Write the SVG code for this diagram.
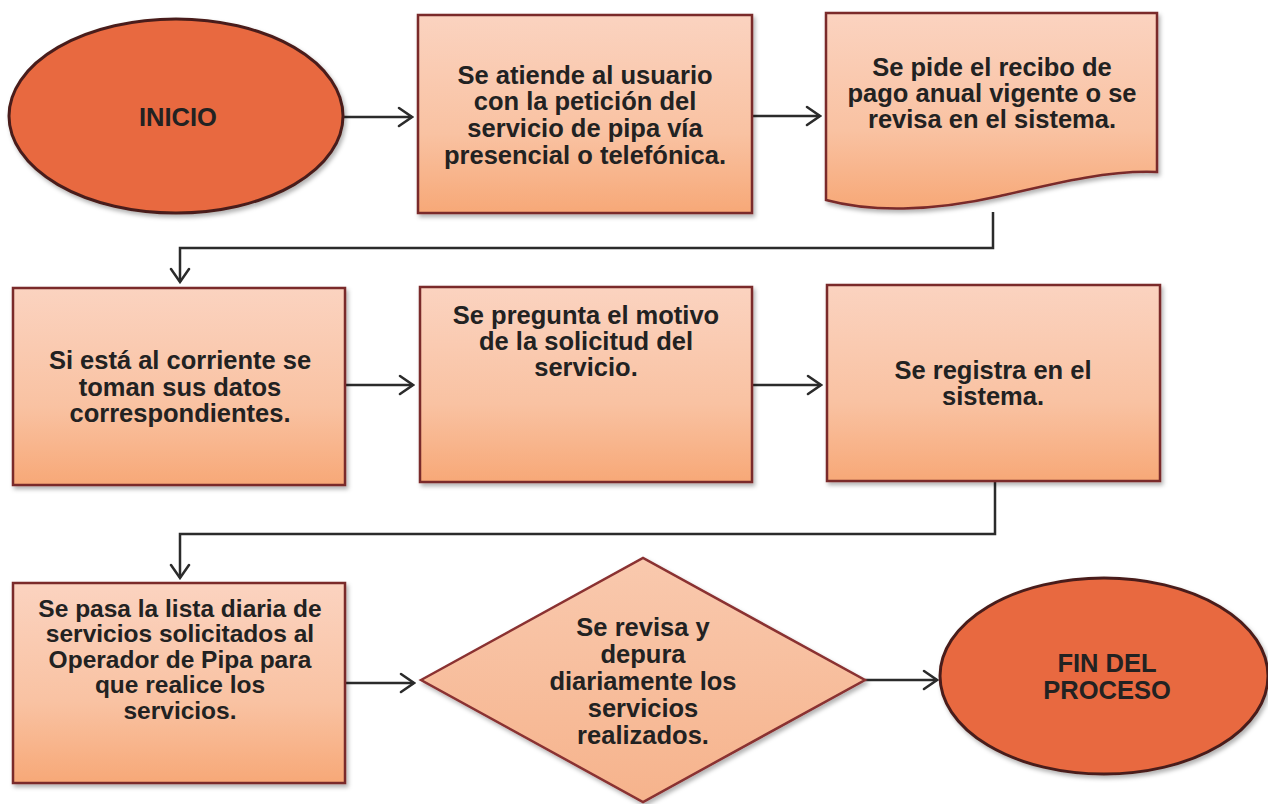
<svg xmlns="http://www.w3.org/2000/svg" width="1268" height="804" viewBox="0 0 1268 804">
  <defs>
    <linearGradient id="boxGrad" x1="0" y1="0" x2="0" y2="1">
      <stop offset="0" stop-color="#FBD3C0"/>
      <stop offset="0.6" stop-color="#F9C2A2"/>
      <stop offset="1" stop-color="#F7A877"/>
    </linearGradient>
    <linearGradient id="diaGrad" x1="0" y1="0" x2="0" y2="1">
      <stop offset="0" stop-color="#F9C9AE"/>
      <stop offset="1" stop-color="#F6B38C"/>
    </linearGradient>
    <filter id="shadow" x="-10%" y="-10%" width="120%" height="125%">
      <feDropShadow dx="2" dy="3" stdDeviation="2" flood-color="#000" flood-opacity="0.3"/>
    </filter>
    <marker id="arrow" markerUnits="userSpaceOnUse" viewBox="-16 -11 18 22" refX="0" refY="0" markerWidth="18" markerHeight="22" orient="auto">
      <path d="M-13,-9 L0,0 L-13,9" fill="none" stroke="#2b2b2b" stroke-width="2.5" stroke-linejoin="miter" stroke-linecap="round"/>
    </marker>
    <style>
      .box { fill: url(#boxGrad); stroke: #7A2B2B; stroke-width: 2.5; filter: url(#shadow); }
      .dia { fill: url(#diaGrad); stroke: #8A3030; stroke-width: 2.5; filter: url(#shadow); }
      .term { fill: #E8693F; stroke: #4A1F1A; stroke-width: 3; filter: url(#shadow); }
      .lbl { font-family: "Liberation Sans", Arial, sans-serif; font-weight: bold; font-size: 25.5px; fill: #222; text-anchor: middle; dominant-baseline: central; }
      .sm { font-size: 24.5px; }
      .con { fill: none; stroke: #2b2b2b; stroke-width: 2.5; }
    </style>
  </defs>

  <rect width="1268" height="804" fill="#ffffff"/>

  <g id="connectors">
    <line class="con" x1="343" y1="117" x2="412" y2="117" marker-end="url(#arrow)"/>
    <line class="con" x1="752" y1="116" x2="820" y2="116" marker-end="url(#arrow)"/>
    <polyline class="con" points="993,212 993,248 180,248 180,282" marker-end="url(#arrow)"/>
    <line class="con" x1="345" y1="385" x2="413" y2="385" marker-end="url(#arrow)"/>
    <line class="con" x1="752" y1="385" x2="821" y2="385" marker-end="url(#arrow)"/>
    <polyline class="con" points="995,481 995,534 180,534 180,578" marker-end="url(#arrow)"/>
    <line class="con" x1="345" y1="683" x2="414" y2="683" marker-end="url(#arrow)"/>
    <line class="con" x1="865" y1="680" x2="937" y2="680" marker-end="url(#arrow)"/>
  </g>

  <g id="inicio">
    <ellipse class="term" cx="176" cy="116" rx="167" ry="97"/>
    <text class="lbl" x="178" y="117">INICIO</text>
  </g>

  <g id="atiende">
    <rect class="box" x="418" y="15" width="334" height="198"/>
    <text class="lbl" x="585" y="75">Se atiende al usuario</text>
    <text class="lbl" x="585" y="101">con la petición del</text>
    <text class="lbl" x="585" y="128">servicio de pipa vía</text>
    <text class="lbl" x="585" y="155">presencial o telefónica.</text>
  </g>

  <g id="recibo">
    <path class="box" d="M826,13 H1157 V172 C1110,170 1060,182 1000,196 C930,212 870,212 826,200 Z"/>
    <text class="lbl" x="992" y="67">Se pide el recibo de</text>
    <text class="lbl" x="992" y="93">pago anual vigente o se</text>
    <text class="lbl" x="992" y="119">revisa en el sistema.</text>
  </g>

  <g id="corriente">
    <rect class="box" x="13" y="288" width="332" height="197"/>
    <text class="lbl" x="180" y="360">Si está al corriente se</text>
    <text class="lbl" x="180" y="387">toman sus datos</text>
    <text class="lbl" x="180" y="413">correspondientes.</text>
  </g>

  <g id="motivo">
    <rect class="box" x="420" y="287" width="332" height="195"/>
    <text class="lbl" x="586" y="315">Se pregunta el motivo</text>
    <text class="lbl" x="586" y="341">de la solicitud del</text>
    <text class="lbl" x="586" y="367">servicio.</text>
  </g>

  <g id="registra">
    <rect class="box" x="827" y="285" width="333" height="196"/>
    <text class="lbl" x="993" y="370">Se registra en el</text>
    <text class="lbl" x="993" y="396">sistema.</text>
  </g>

  <g id="lista">
    <rect class="box" x="13" y="583" width="332" height="200"/>
    <text class="lbl sm" x="180" y="608">Se pasa la lista diaria de</text>
    <text class="lbl sm" x="180" y="633.5">servicios solicitados al</text>
    <text class="lbl sm" x="180" y="659">Operador de Pipa para</text>
    <text class="lbl sm" x="180" y="684.5">que realice los</text>
    <text class="lbl sm" x="180" y="710">servicios.</text>
  </g>

  <g id="revisa">
    <polygon class="dia" points="421,680 643,558 865,680 643,802"/>
    <text class="lbl" x="643" y="627">Se revisa y</text>
    <text class="lbl" x="643" y="654">depura</text>
    <text class="lbl" x="643" y="681">diariamente los</text>
    <text class="lbl" x="643" y="708">servicios</text>
    <text class="lbl" x="643" y="735">realizados.</text>
  </g>

  <g id="fin">
    <ellipse class="term" cx="1104" cy="676" rx="164" ry="98"/>
    <text class="lbl" x="1107" y="663">FIN DEL</text>
    <text class="lbl" x="1107" y="690">PROCESO</text>
  </g>
</svg>
